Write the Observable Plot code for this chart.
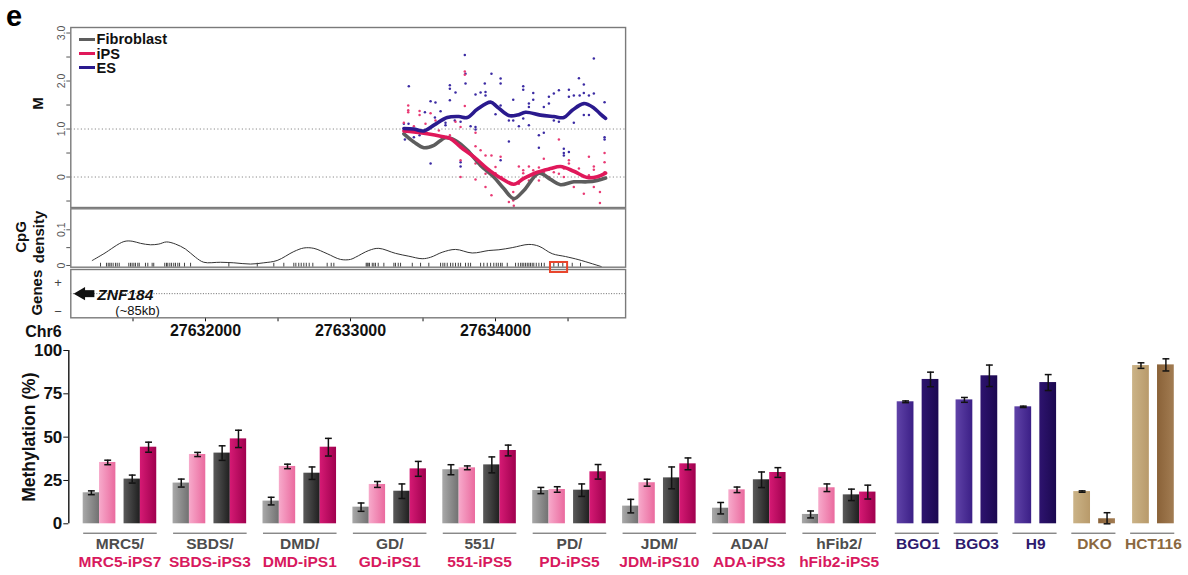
<!DOCTYPE html>
<html><head><meta charset="utf-8">
<script src="https://cdn.jsdelivr.net/npm/d3@7"></script>
<script src="https://cdn.jsdelivr.net/npm/@observablehq/plot@0.6"></script>
<style>
body{margin:0;background:#fff;}
#fig{position:relative;width:1188px;height:575px;overflow:hidden;background:#fff;font-family:"Liberation Sans",Arial,sans-serif;}
#fig > svg{position:absolute;left:0;}
.leg{position:absolute;left:79px;height:14px;font:bold 14.6px "Liberation Sans",Arial,sans-serif;line-height:14px;white-space:nowrap;color:#111;}
.leg i{display:inline-block;width:16px;height:3px;vertical-align:middle;margin-right:1.5px;position:relative;top:-1px;}
</style></head>
<body><div id="fig"></div>
<svg width="0" height="0" style="position:absolute">
<defs>
<linearGradient id="gFibA" x1="0" x2="1" y1="0" y2="0"><stop offset="0" stop-color="#a9a9a9"/><stop offset="1" stop-color="#717171"/></linearGradient>
<linearGradient id="gIpsA" x1="0" x2="1" y1="0" y2="0"><stop offset="0" stop-color="#f7aacb"/><stop offset="1" stop-color="#ea6a9e"/></linearGradient>
<linearGradient id="gFibB" x1="0" x2="1" y1="0" y2="0"><stop offset="0" stop-color="#5a5a5a"/><stop offset="1" stop-color="#1f1f1f"/></linearGradient>
<linearGradient id="gIpsB" x1="0" x2="1" y1="0" y2="0"><stop offset="0" stop-color="#d51a74"/><stop offset="1" stop-color="#a0004e"/></linearGradient>
<linearGradient id="gEsA" x1="0" x2="1" y1="0" y2="0"><stop offset="0" stop-color="#6043a8"/><stop offset="1" stop-color="#3b1f86"/></linearGradient>
<linearGradient id="gEsB" x1="0" x2="1" y1="0" y2="0"><stop offset="0" stop-color="#2e146f"/><stop offset="1" stop-color="#1b0850"/></linearGradient>
<linearGradient id="gCaA" x1="0" x2="1" y1="0" y2="0"><stop offset="0" stop-color="#cbb387"/><stop offset="1" stop-color="#b89a6a"/></linearGradient>
<linearGradient id="gCaB" x1="0" x2="1" y1="0" y2="0"><stop offset="0" stop-color="#8a6238"/><stop offset="1" stop-color="#a27c52"/></linearGradient>
</defs></svg>
<script>
// ---------------- DATA ----------------
// Panel 1: smoothed M values (position bp, M)
const fibroblastLine = [[27633368,0.90],[27633437,0.73],[27633506,0.61],[27633575,0.66],[27633655,0.82],[27633724,0.76],[27633805,0.56],[27633897,0.24],[27633988,0.00],[27634057,-0.24],[27634126,-0.45],[27634195,-0.28],[27634299,0.08],[27634379,-0.05],[27634448,-0.16],[27634540,-0.10],[27634633,-0.10],[27634702,-0.07],[27634759,-0.02]];
const ipsLine = [[27633368,0.96],[27633437,0.94],[27633529,0.90],[27633621,0.85],[27633690,0.80],[27633759,0.625],[27633851,0.42],[27633943,0.175],[27634035,-0.02],[27634126,-0.15],[27634195,-0.03],[27634288,0.10],[27634379,0.175],[27634448,0.22],[27634540,0.12],[27634633,-0.01],[27634702,0.005],[27634759,0.08]];
const esLine = [[27633368,1.01],[27633435,1.00],[27633506,0.96],[27633575,1.08],[27633667,1.24],[27633747,1.26],[27633805,1.24],[27633874,1.41],[27633966,1.56],[27634012,1.46],[27634092,1.28],[27634150,1.29],[27634207,1.35],[27634310,1.29],[27634402,1.26],[27634471,1.24],[27634529,1.39],[27634609,1.53],[27634678,1.44],[27634724,1.31],[27634759,1.22]];
// Panel 1: individual CpG M values
const esDots = [[27633402,1.89],[27633368,1.11],[27633400,1.11],[27633375,0.78],[27633437,0.83],[27633476,0.87],[27633513,1.35],[27633552,1.58],[27633586,1.55],[27633582,1.24],[27633621,1.37],[27633655,1.13],[27633655,1.08],[27633685,1.91],[27633685,1.84],[27633685,1.60],[27633724,1.76],[27633719,1.18],[27633759,1.15],[27633759,0.31],[27633759,0.22],[27633793,1.95],[27633793,2.15],[27633788,2.54],[27633828,1.06],[27633862,1.72],[27633862,1.04],[27633862,0.99],[27633897,1.76],[27633926,1.95],[27633931,1.77],[27633931,1.70],[27633972,2.15],[27634000,1.31],[27634035,2.05],[27634035,1.95],[27633552,0.28],[27634035,1.49],[27634092,1.18],[27634122,1.61],[27634122,1.18],[27634161,1.06],[27634191,1.89],[27634191,1.82],[27634191,1.22],[27634230,1.53],[27634230,1.46],[27634230,1.08],[27634260,1.75],[27634260,1.61],[27634299,0.87],[27634299,0.61],[27634333,0.92],[27634333,1.46],[27634368,1.67],[27634368,1.53],[27634402,1.74],[27634402,1.18],[27634437,1.81],[27634437,1.15],[27634471,0.59],[27634471,0.50],[27634471,0.45],[27634506,1.82],[27634506,1.67],[27634506,0.52],[27634540,1.70],[27634540,1.13],[27634575,2.06],[27634580,1.70],[27634609,1.93],[27634609,1.75],[27634609,1.29],[27634644,1.70],[27634644,1.29],[27634678,2.47],[27634678,1.74],[27634752,1.56],[27634752,0.83],[27634752,0.78],[27634035,0.35],[27634092,0.74]];
const ipsDots = [[27633368,1.13],[27633398,1.49],[27633398,1.39],[27633398,1.35],[27633437,1.06],[27633476,1.375],[27633476,1.29],[27633517,1.11],[27633552,1.33],[27633586,1.18],[27633609,0.97],[27633685,0.87],[27633724,1.15],[27633759,1.04],[27633759,0.35],[27633788,2.20],[27633788,2.13],[27633788,1.48],[27633759,0.00],[27633862,0.92],[27633862,0.64],[27633862,0.28],[27633862,-0.05],[27633897,0.56],[27633931,0.45],[27633931,0.07],[27633931,-0.21],[27633972,0.45],[27633972,-0.38],[27634000,0.21],[27634000,0.08],[27634041,0.00],[27634035,0.42],[27634122,-0.49],[27634122,-0.31],[27634161,0.22],[27634161,-0.14],[27634191,0.14],[27634191,0.08],[27634230,0.22],[27634230,-0.07],[27634260,0.14],[27634299,0.20],[27634299,-0.07],[27634333,0.38],[27634333,0.10],[27634368,0.15],[27634368,0.00],[27634402,0.10],[27634437,0.78],[27634437,0.07],[27634471,0.175],[27634471,0.00],[27634506,0.35],[27634506,0.28],[27634540,-0.21],[27634575,0.175],[27634575,-0.10],[27634609,0.00],[27634609,-0.35],[27634644,0.42],[27634644,0.035],[27634644,-0.10],[27634678,0.22],[27634678,0.15],[27634678,-0.21],[27634720,-0.31],[27634720,-0.54],[27634752,0.50],[27634752,0.31],[27634752,0.10],[27634126,-0.60],[27634092,-0.52]];
const legendNames = ["Fibroblast", "iPS", "ES"];

// Panel 2: CpG density curve and CpG sites
const cpgDensity = [[27631219,0.014],[27631299,0.033],[27631437,0.067],[27631494,0.068],[27631552,0.062],[27631621,0.058],[27631678,0.060],[27631731,0.066],[27631793,0.060],[27631862,0.046],[27631931,0.023],[27631988,0.009],[27632103,0.009],[27632195,0.0075],[27632310,0.004],[27632402,0.0075],[27632494,0.014],[27632609,0.039],[27632678,0.049],[27632747,0.048],[27632839,0.033],[27632931,0.017],[27633000,0.017],[27633034,0.023],[27633126,0.042],[27633195,0.048],[27633310,0.034],[27633402,0.026],[27633494,0.019],[27633552,0.023],[27633632,0.037],[27633724,0.045],[27633839,0.035],[27633954,0.042],[27634023,0.044],[27634115,0.050],[27634230,0.059],[27634299,0.054],[27634391,0.033],[27634483,0.025],[27634575,0.016],[27634729,-0.003]];
const cpgSites = [27631276,27631317,27631329,27631340,27631350,27631363,27631379,27631391,27631405,27631471,27631483,27631494,27631506,27631517,27631533,27631543,27631586,27631602,27631632,27631643,27631719,27631731,27631740,27631754,27631766,27631781,27631793,27631809,27631821,27631855,27631897,27632161,27632357,27632471,27632540,27632609,27632623,27632643,27632660,27632678,27632695,27632715,27632740,27632839,27632867,27632885,27633108,27633115,27633122,27633131,27633150,27633161,27633172,27633191,27633230,27633299,27633310,27633329,27633345,27633426,27633483,27633540,27633621,27633637,27633650,27633667,27633690,27633706,27633724,27633743,27633759,27633793,27633812,27633828,27633897,27633919,27633943,27633966,27633988,27634005,27634019,27634035,27634046,27634081,27634138,27634157,27634173,27634184,27634195,27634207,27634219,27634230,27634241,27634253,27634264,27634281,27634299,27634317,27634336,27634402,27634433,27634464,27634529,27634586];
const highlightRegion = [{start: 27634379, end: 27634497}];

// Panel 3: gene
const genes = [{name: "ZNF184", head: 27631143, neck: 27631159, tail: 27631237, length: "85kb", strand: "-"}];
const chrom = "Chr6";
const chrMajorTicks = [27632000, 27633000, 27634000];
const chrMinorTicks = [27631500, 27632500, 27633500, 27634500];

// Bar chart
const donorNames = ["MRC5", "SBDS", "DMD", "GD", "551", "PD", "JDM", "ADA", "hFib2"];
const ipsNames = ["MRC5-iPS7", "SBDS-iPS3", "DMD-iPS1", "GD-iPS1", "551-iPS5", "PD-iPS5", "JDM-iPS10", "ADA-iPS3", "hFib2-iPS5"];
const fibA = [17.9, 23.5, 13.1, 9.6, 31.2, 19.2, 10.2, 9.0, 5.4];
const fibAErr = [1.1, 2.3, 2.2, 2.4, 2.9, 1.8, 3.9, 3.3, 2.0];
const ipsA = [35.4, 40.0, 33.1, 22.7, 32.3, 19.8, 23.7, 19.6, 20.8];
const ipsAErr = [1.3, 1.2, 1.3, 1.7, 1.1, 1.6, 2.0, 1.6, 2.2];
const fibB = [25.8, 40.8, 29.2, 18.8, 34.0, 19.4, 26.5, 25.4, 16.7];
const fibBErr = [2.3, 4.2, 3.6, 4.2, 4.6, 3.6, 6.3, 4.5, 3.3];
const ipsB = [44.2, 49.0, 44.2, 31.7, 42.3, 30.0, 34.6, 29.6, 18.3];
const ipsBErr = [2.9, 5.0, 5.1, 4.3, 3.1, 4.2, 3.4, 2.8, 4.0];
const refNames = ["BGO1", "BGO3", "H9", "DKO", "HCT116"];
const refKind = ["ES", "ES", "ES", "cancer", "cancer"];
const refA = [70.4, 71.5, 67.5, 18.6, 91.3];
const refAErr = [0.5, 1.4, 0.4, 0.4, 1.6];
const refB = [83.3, 85.4, 81.5, 2.9, 91.7];
const refBErr = [4.2, 6.2, 4.6, 3.5, 3.5];
const yTicks = [0, 25, 50, 75, 100];

// ---------------- STYLE / LAYOUT ----------------
const FONT = "'Liberation Sans', Arial, sans-serif";
const baseStyle = {fontFamily: FONT, background: "transparent", overflow: "visible", color: "#222"};
const C = {fib: "#5d5d5d", ips: "#e0185a", es: "#2a1a8e", esDot: "#3b2ba3", ipsDot: "#e93a74", frame: "#7a7a7a"};
const xDomain = [27631071, 27634897];
const topOpts = {width: 640, marginLeft: 70.3, marginRight: 14.9, x: {domain: xDomain, axis: null}, style: baseStyle};
const fig = document.getElementById("fig");
function place(el, t) { el.style.position = "absolute"; el.style.left = "0px"; el.style.top = t + "px"; fig.appendChild(el); }

// "e" panel letter
const ns = "http://www.w3.org/2000/svg";
const eSvg = document.createElementNS(ns, "svg");
eSvg.setAttribute("width", 50); eSvg.setAttribute("height", 40);
const eTxt = document.createElementNS(ns, "text");
eTxt.setAttribute("x", 6); eTxt.setAttribute("y", 26);
eTxt.setAttribute("font-family", FONT); eTxt.setAttribute("font-weight", "bold"); eTxt.setAttribute("font-size", 29);
eTxt.textContent = "e"; eSvg.appendChild(eTxt); place(eSvg, 0);

const toObj = (arr) => arr.map(([pos, v]) => ({pos, v}));
const yLabel = (txt, dx, dy, size) => Plot.text([txt], {frameAnchor: "left", textAnchor: "middle", lineAnchor: "middle", dx, dy, rotate: -90, lineHeight: 1.2, fontWeight: "bold", fontSize: size, fill: "#111"});

// Panel 1
const p1 = Plot.plot({...topOpts, height: 212, marginTop: 27, marginBottom: 5,
  y: {domain: [-0.635, 3.115], axis: null},
  marks: [
    Plot.ruleY([0, 1], {stroke: "#8a8a8a", strokeWidth: 1, strokeDasharray: "1.2,2.3"}),
    Plot.dot(toObj(esDots), {x: "pos", y: "v", r: 1.25, fill: C.esDot, stroke: "none"}),
    Plot.dot(toObj(ipsDots), {x: "pos", y: "v", r: 1.25, fill: C.ipsDot, stroke: "none"}),
    Plot.line(toObj(fibroblastLine), {x: "pos", y: "v", curve: "catmull-rom", stroke: C.fib, strokeWidth: 3.6}),
    Plot.line(toObj(ipsLine), {x: "pos", y: "v", curve: "catmull-rom", stroke: C.ips, strokeWidth: 3.6}),
    Plot.line(toObj(esLine), {x: "pos", y: "v", curve: "catmull-rom", stroke: C.es, strokeWidth: 3.6}),
    Plot.axisY({ticks: [0, 1, 2, 3], tickFormat: d => d === 0 ? "0" : d.toFixed(1), tickRotate: -90, tickSize: 4, tickPadding: 2, fontSize: 10.5, color: "#555", label: null}),
    Plot.axisY({ticks: [-0.5, 0.5, 1.5, 2.5], tickFormat: () => "", tickSize: 4, color: "#555", label: null}),
    Plot.frame({stroke: C.frame, strokeWidth: 1.4}),
    yLabel("M", -34, -14, 15)
  ]
});
place(p1, 0);

// legend
const legColors = [C.fib, C.ips, C.es];
legendNames.forEach((n, i) => {
  const d = document.createElement("div");
  d.className = "leg";
  d.style.top = (32.3 + i * 14.2) + "px";
  d.innerHTML = `<i style="background:${legColors[i]}"></i>${n}`;
  fig.appendChild(d);
});

// Panel 3 (genes + chromosome axis)
const p3 = Plot.plot({...topOpts, height: 80, marginTop: 3, marginBottom: 28.7,
  y: {domain: [-1.3, 1.3], axis: null},
  marks: [
    Plot.ruleY([0], {stroke: "#444", strokeWidth: 0.8, strokeDasharray: "1,1.6"}),
    Plot.ruleY(genes, {x1: "neck", x2: "tail", y: 0, stroke: "#111", strokeWidth: 7}),
    Plot.dot(genes, {x: "head", y: 0, symbol: "triangle", rotate: -90, r: 4.9, fill: "#111", stroke: "none"}),
    Plot.text(genes, {x: "tail", y: 0, text: "name", textAnchor: "start", dx: 2.5, dy: 1, fontStyle: "italic", fontWeight: "bold", fontSize: 15.5, fill: "#111"}),
    Plot.text(genes, {x: "tail", y: 0, text: d => `(~${d.length})`, textAnchor: "start", dx: 20.5, dy: 17, fontSize: 13, fill: "#111"}),
    Plot.axisY({ticks: [0.6, -1], tickFormat: d => d > 0 ? "+" : "\u2212", tickSize: 0, tickPadding: 9, fontSize: 13, color: "#444", label: null}),
    Plot.axisX({ticks: chrMajorTicks, tickFormat: d => String(d), tickSize: 4, tickPadding: 3, fontSize: 16, fontWeight: "bold", color: "#111", label: null}),
    Plot.axisX({ticks: chrMinorTicks, tickFormat: () => "", tickSize: 4, color: "#111", label: null}),
    Plot.frame({stroke: C.frame, strokeWidth: 1.4}),
    yLabel("Genes", -35, -1, 15),
    Plot.text([chrom], {frameAnchor: "bottom-left", textAnchor: "middle", lineAnchor: "middle", dx: -27.3, dy: 14.2, fontWeight: "bold", fontSize: 16, fill: "#111"})
  ]
});
place(p3, 266);

// Panel 2 (CpG density)
const p2 = Plot.plot({...topOpts, height: 72, marginTop: 8.3, marginBottom: 5.3,
  y: {domain: [-0.0048, 0.1588], axis: null},
  marks: [
    Plot.ruleX(cpgSites, {x: d => d, y1: -0.0048, y2: 0.0062, stroke: "#111", strokeWidth: 0.8}),
    Plot.line(toObj(cpgDensity), {x: "pos", y: "v", curve: "catmull-rom", stroke: "#333", strokeWidth: 1}),
    Plot.axisY({ticks: [0, 0.1], tickFormat: d => d === 0 ? "0" : String(d), tickRotate: -90, tickSize: 4, tickPadding: 2, fontSize: 10.5, color: "#555", label: null}),
    Plot.axisY({ticks: [0.05], tickFormat: () => "", tickSize: 4, color: "#555", label: null}),
    Plot.frame({stroke: C.frame, strokeWidth: 1.4}),
    Plot.rect(highlightRegion, {x1: "start", x2: "end", y1: -0.0196, y2: 0.0084, fill: "none", stroke: "#e8452c", strokeWidth: 2}),
    yLabel("CpG\ndensity", -41.3, -1, 15)
  ]
});
place(p2, 200);

// ---------------- BAR CHART ----------------
const GROUP_STEP = 11, IPS_OFF = [0, 2, 5, 7], IPS_W = 2, GROUP_SPAN = 9;
const REF_START = 99.6, REF_STEP = 7.2, REF_OFF = [0, 3.05], REF_W = 2.05;
const ipsFills = ["url(#gFibA)", "url(#gIpsA)", "url(#gFibB)", "url(#gIpsB)"];
const refFills = {ES: ["url(#gEsA)", "url(#gEsB)"], cancer: ["url(#gCaA)", "url(#gCaB)"]};
const labelColor = {donor: "#4d4d4d", ips: "#d8195e", ES: "#2e1a6e", cancer: "#8b6840"};

const bars = [];
const groups = [];
donorNames.forEach((name, g) => {
  const start = g * GROUP_STEP;
  const vals = [fibA[g], ipsA[g], fibB[g], ipsB[g]];
  const errs = [fibAErr[g], ipsAErr[g], fibBErr[g], ipsBErr[g]];
  vals.forEach((v, k) => {
    const x1 = start + IPS_OFF[k];
    bars.push({x1, x2: x1 + IPS_W, xc: x1 + IPS_W / 2, v, e: errs[k], fill: ipsFills[k]});
  });
  groups.push({x1: start, x2: start + GROUP_SPAN, xc: start + GROUP_SPAN / 2, top: name + "/", bottom: ipsNames[g], topColor: labelColor.donor, bottomColor: labelColor.ips});
});
refNames.forEach((name, i) => {
  const start = REF_START + i * REF_STEP;
  [[refA[i], refAErr[i]], [refB[i], refBErr[i]]].forEach(([v, e], k) => {
    const x1 = start + REF_OFF[k];
    bars.push({x1, x2: x1 + REF_W, xc: x1 + REF_W / 2, v, e, fill: refFills[refKind[i]][k]});
  });
  const end = start + REF_OFF[1] + REF_W;
  groups.push({x1: start - 0.3, x2: end, xc: (start + end) / 2, top: name, bottom: "", topColor: labelColor[refKind[i]], bottomColor: labelColor[refKind[i]]});
});

const CAP = 0.42;
const p4 = Plot.plot({width: 1188, height: 240, marginTop: 15, marginBottom: 51.7, marginLeft: 68.3, marginRight: 0,
  style: baseStyle,
  x: {domain: [-1.76, 135.24], axis: null},
  y: {domain: [0, 100], axis: null},
  color: {type: "identity"},
  marks: [
    Plot.rect(bars, {x1: "x1", x2: "x2", y1: 0, y2: "v", fill: "fill"}),
    Plot.ruleX(bars, {x: "xc", y1: d => Math.max(0, d.v - d.e), y2: d => d.v + d.e, stroke: "#111", strokeWidth: 1.5}),
    Plot.link(bars, {x1: d => d.xc - CAP, x2: d => d.xc + CAP, y1: d => d.v + d.e, y2: d => d.v + d.e, stroke: "#111", strokeWidth: 1.5}),
    Plot.link(bars, {x1: d => d.xc - CAP, x2: d => d.xc + CAP, y1: d => Math.max(0, d.v - d.e), y2: d => Math.max(0, d.v - d.e), stroke: "#111", strokeWidth: 1.5}),
    Plot.link(groups, {x1: "x1", x2: "x2", y1: 0, y2: 0, dy: 9.4, stroke: "#555", strokeWidth: 1}),
    Plot.text(groups, {x: "xc", y: 0, dy: 20.3, text: "top", fill: "topColor", fontWeight: "bold", fontSize: 15.5}),
    Plot.text(groups, {x: "xc", y: 0, dy: 38.6, text: "bottom", fill: "bottomColor", fontWeight: "bold", fontSize: 15.5}),
    Plot.axisY({ticks: yTicks, tickSize: 5, tickPadding: 1.5, fontSize: 17, fontWeight: "bold", color: "#111", label: null}),
    Plot.ruleX([-1.76], {stroke: "#222", strokeWidth: 1.5}),
    yLabel("Methylation (%)", -40.8, 0, 17.5)
  ]
});
place(p4, 335);
</script>
</body></html>
